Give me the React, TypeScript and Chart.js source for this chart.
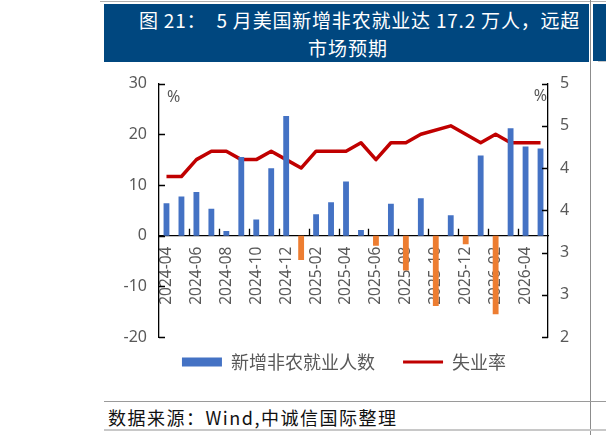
import React, { useEffect, useRef } from 'react';
import { Chart, registerables } from 'chart.js';

Chart.register(...registerables);

// ---- data ----
const months = [
  '2024-04', '2024-05', '2024-06', '2024-07', '2024-08', '2024-09', '2024-10', '2024-11', '2024-12',
  '2025-01', '2025-02', '2025-03', '2025-04', '2025-05', '2025-06', '2025-07', '2025-08', '2025-09',
  '2025-10', '2025-11', '2025-12', '2026-01', '2026-02', '2026-03', '2026-04', '2026-05',
];
// 新增非农就业人数 (万人)
const payrolls = [
  6.4, 7.7, 8.6, 5.3, 0.9, 15.5, 3.2, 13.3, 23.6,
  -4.8, 4.2, 6.6, 10.7, 1.1, -2.0, 6.3, -6.9, 7.4,
  -13.9, 4.0, -1.7, 15.8, -15.5, 21.2, 17.6, 17.2,
];
// 失业率 (%)
const unemployment = [
  3.9, 3.9, 4.1, 4.2, 4.2, 4.1, 4.1, 4.2, 4.1,
  4.0, 4.2, 4.2, 4.2, 4.3, 4.1, 4.3, 4.3, 4.4,
  null, 4.5, 4.4, 4.3, 4.4, 4.3, 4.3, 4.3,
];
const seriesNames = ['新增非农就业人数', '失业率'];
const leftAxis = { min: -20, max: 30, step: 10 };
const rightAxis = { min: 2, max: 5, step: 0.5 };

const BLUE = '#4472C4';
const ORANGE = '#ED7D31';
const RED = '#C00000';
const GRAY = '#595959';
const NUM_FONT = '"Noto Sans", "DejaVu Sans", sans-serif';
const CJK_FONT = '"Noto Sans CJK SC", "Noto Sans", sans-serif';

const axisDecor = {
  id: 'axisDecor',
  afterDatasetsDraw(chart: any) {
    const { ctx, chartArea, scales } = chart;
    const x = scales.x, y = scales.y, y1 = scales.y1;
    ctx.save();
    ctx.strokeStyle = '#000';
    ctx.lineWidth = 1.3;
    ctx.beginPath();
    y.ticks.forEach((t: any) => {
      const p = Math.round(y.getPixelForValue(t.value)) + 0.5;
      ctx.moveTo(chartArea.left, p);
      ctx.lineTo(chartArea.left + 6, p);
    });
    y1.ticks.forEach((t: any) => {
      const p = Math.round(y1.getPixelForValue(t.value)) + 0.5;
      ctx.moveTo(chartArea.right - 6, p);
      ctx.lineTo(chartArea.right, p);
    });
    const y0 = y.getPixelForValue(0);
    for (let i = 2; i < months.length; i += 2) {
      const p = Math.round((x.getPixelForValue(i - 1) + x.getPixelForValue(i)) / 2) + 0.5;
      ctx.moveTo(p, y0);
      ctx.lineTo(p, y0 - 7);
    }
    ctx.stroke();
    ctx.fillStyle = GRAY;
    ctx.font = '16px ' + NUM_FONT;
    ctx.textBaseline = 'middle';
    ctx.textAlign = 'left';
    ctx.fillText('%', chartArea.left + 8, chartArea.top + 14);
    ctx.textAlign = 'right';
    ctx.fillText('%', chartArea.right - 1, chartArea.top + 13);
    ctx.restore();
  },
};

function ChartView() {
  const ref = useRef<HTMLCanvasElement>(null);
  useEffect(() => {
    if (!ref.current) return;
    const chart = new Chart(ref.current, {
      type: 'bar',
      data: {
        labels: months,
        datasets: [
          {
            type: 'bar',
            label: seriesNames[0],
            data: payrolls,
            yAxisID: 'y',
            backgroundColor: payrolls.map((v) => (v < 0 ? ORANGE : BLUE)),
            borderWidth: 0,
            barPercentage: 0.39,
            categoryPercentage: 1,
          },
          {
            type: 'line',
            label: seriesNames[1],
            data: unemployment,
            yAxisID: 'y1',
            borderColor: RED,
            backgroundColor: RED,
            borderWidth: 3.5,
            pointRadius: 0,
            tension: 0,
            spanGaps: true,
            borderJoinStyle: 'round',
          },
        ],
      } as any,
      options: {
        responsive: false,
        animation: false,
        devicePixelRatio: 1,
        layout: { padding: { left: 0, right: 0, top: 20, bottom: 19 } },
        plugins: {
          tooltip: { enabled: false },
          legend: {
            position: 'bottom',
            align: 'center',
            labels: {
              usePointStyle: true,
              pointStyleWidth: 40,
              boxHeight: 9,
              padding: 16,
              color: GRAY,
              font: { size: 18, family: CJK_FONT },
              sort: (a: any, b: any) => a.datasetIndex - b.datasetIndex,
              generateLabels: () => [
                {
                  text: seriesNames[0] + '   ',
                  fillStyle: BLUE,
                  strokeStyle: BLUE,
                  lineWidth: 0,
                  pointStyle: 'rect',
                  datasetIndex: 0,
                  hidden: false,
                  fontColor: GRAY,
                },
                {
                  text: seriesNames[1],
                  fillStyle: RED,
                  strokeStyle: RED,
                  lineWidth: 3,
                  pointStyle: 'line',
                  datasetIndex: 1,
                  hidden: false,
                  fontColor: GRAY,
                },
              ],
            },
          },
        },
        scales: {
          x: {
            type: 'category',
            position: { y: 0 },
            offset: true,
            grid: { display: false, drawTicks: false },
            border: { display: true, color: '#000', width: 1.3 },
            ticks: {
              autoSkip: false,
              minRotation: 90,
              maxRotation: 90,
              padding: 11,
              color: GRAY,
              font: { size: 15.5, family: NUM_FONT },
              callback: (_v: any, i: number) => (i % 2 === 0 ? months[i] : ''),
            },
          },
          y: {
            position: 'left',
            min: leftAxis.min,
            max: leftAxis.max,
            grid: { display: false, drawTicks: false },
            border: { display: true, color: '#000', width: 1.3 },
            ticks: {
              stepSize: leftAxis.step,
              padding: 12,
              color: GRAY,
              font: { size: 16, family: NUM_FONT },
            },
            afterFit: (s: any) => { s.width = 55; },
          },
          y1: {
            position: 'right',
            min: rightAxis.min,
            max: rightAxis.max,
            grid: { display: false, drawTicks: false },
            border: { display: true, color: '#000', width: 1.3 },
            ticks: {
              stepSize: rightAxis.step,
              padding: 12,
              color: GRAY,
              font: { size: 16, family: NUM_FONT },
              callback: (v: any) => String(Math.round(Number(v))),
            },
            afterFit: (s: any) => { s.width = 36; },
          },
        },
      } as any,
      plugins: [axisDecor],
    });
    return () => chart.destroy();
  }, []);
  return <canvas ref={ref} width={480} height={338} style={{ width: 480, height: 338, display: 'block' }} />;
}

export default function App() {
  const abs = (s: React.CSSProperties): React.CSSProperties => ({ position: 'absolute', ...s });
  return (
    <div style={abs({ left: 0, top: 0, width: 606, height: 435, background: '#fff', overflow: 'hidden' })}>
      <div style={abs({ left: 100, top: 1, width: 506, height: 1, background: '#b0b0b0' })} />
      <div style={abs({ left: 104, top: 4, width: 485, height: 58, background: '#00477F' })} />
      <div style={abs({ left: 593, top: 4, width: 13, height: 57, background: '#00477F' })} />
      <div style={abs({ left: 598, top: 61, width: 8, height: 1, background: '#c8c8c8' })} />
      <div
        style={abs({
          left: 139, top: 7, whiteSpace: 'pre', color: '#fff', fontFamily: CJK_FONT,
          fontSize: 19, lineHeight: '26px', letterSpacing: '0.8px',
        })}
      >
        {'图 21：  5 月美国新增非农就业达 17.2 万人，远超'}
      </div>
      <div
        style={abs({
          left: 104, width: 488, top: 35, textAlign: 'center', whiteSpace: 'pre', color: '#fff',
          fontFamily: CJK_FONT, fontSize: 19, lineHeight: '26px', letterSpacing: '1px',
        })}
      >
        {'市场预期'}
      </div>
      <div style={abs({ left: 104, top: 62, width: 480, height: 338 })}>
        <ChartView />
      </div>
      <div style={abs({ left: 590, top: 0, width: 1, height: 435, background: '#8c8c8c' })} />
      <div style={abs({ left: 104, top: 401, width: 502, height: 1, background: '#9a9a9a' })} />
      <div
        style={abs({
          left: 108, top: 404, whiteSpace: 'pre', color: '#111', fontFamily: CJK_FONT,
          fontSize: 18, lineHeight: '26px', letterSpacing: '1.5px',
        })}
      >
        {'数据来源：Wind,中诚信国际整理'}
      </div>
      <div style={abs({ left: 104, top: 429, width: 502, height: 2, background: '#c8c8c8' })} />
    </div>
  );
}
